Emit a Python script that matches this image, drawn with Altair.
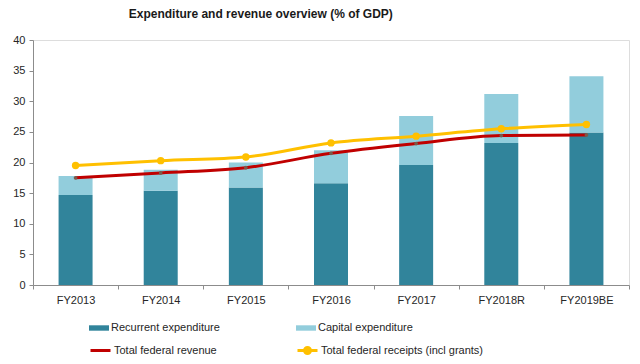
import altair as alt
import pandas as pd

years = ["FY2013", "FY2014", "FY2015", "FY2016", "FY2017", "FY2018R", "FY2019BE"]
recurrent = [14.7, 15.4, 15.9, 16.6, 19.6, 23.2, 24.9]
capital = [3.1, 3.4, 4.1, 5.4, 8.0, 8.0, 9.2]
revenue = [17.5, 18.3, 19.15, 21.5, 23.1, 24.4, 24.5]
receipts = [19.5, 20.3, 20.9, 23.2, 24.3, 25.5, 26.2]

df = pd.DataFrame({
    "year": years,
    "recurrent": recurrent,
    "capital": capital,
    "revenue": revenue,
    "receipts": receipts,
})
df["total"] = df["recurrent"] + df["capital"]

FONT = "Liberation Sans, Arial, sans-serif"

x_enc = alt.X(
    "year:N", sort=years, title=None,
    scale=alt.Scale(paddingInner=0, paddingOuter=0),
    axis=alt.Axis(labelAngle=0, tickBand="extent", tickSize=4, labelPadding=5,
                  domainColor="#8c8c8c", tickColor="#8c8c8c", labelFontSize=11,
                  labelFont=FONT, labelColor="#262626"),
)
y_scale = alt.Scale(domain=[0, 40], nice=False)
y_axis = alt.Axis(values=list(range(0, 41, 5)), grid=False, tickSize=4, labelPadding=4,
                  domainColor="#8c8c8c", tickColor="#8c8c8c", labelFontSize=11,
                  labelFont=FONT, labelColor="#262626", title=None)

rect_path = "M-1,-0.27H1V0.27H-1Z"
line_path = "M-1,0H1"
line_dot_path = "M-1,0H1M0.3,0A0.3,0.3,0,1,1,-0.3,0A0.3,0.3,0,1,1,0.3,0Z"

def leg(x, y, path, stroke_w=0, fill=None):
    kw = dict(orient="none", legendX=x, legendY=y, title=None, symbolType=path,
              symbolSize=400, labelFontSize=11, labelFont=FONT, labelColor="#262626",
              labelOffset=2, padding=0, symbolStrokeWidth=stroke_w, labelLimit=300)
    if fill is not None:
        kw["symbolFillColor"] = fill
    return alt.Legend(**kw)

base = alt.Chart(df)

rec_bar = base.transform_calculate(s="'Recurrent expenditure'").mark_bar(size=34).encode(
    x=x_enc,
    y=alt.Y("recurrent:Q", scale=y_scale, axis=y_axis),
    color=alt.Color("s:N", scale=alt.Scale(domain=["Recurrent expenditure"], range=["#31849B"]),
                    legend=leg(56, 278, rect_path)),
)

cap_bar = base.transform_calculate(s="'Capital expenditure'").mark_bar(size=34).encode(
    x=x_enc,
    y=alt.Y("recurrent:Q", scale=y_scale, axis=y_axis),
    y2="total:Q",
    color=alt.Color("s:N", scale=alt.Scale(domain=["Capital expenditure"], range=["#92CDDC"]),
                    legend=leg(263, 278, rect_path)),
)

rev_line = base.transform_calculate(s="'Total federal revenue'").mark_line(
    strokeWidth=3, interpolate="monotone").encode(
    x=x_enc,
    y=alt.Y("revenue:Q", scale=y_scale, axis=y_axis),
    color=alt.Color("s:N", scale=alt.Scale(domain=["Total federal revenue"], range=["#C00000"]),
                    legend=leg(56, 299, line_path, stroke_w=3)),
)
rev_pts = base.mark_point(filled=True, size=14, color="#7a5a4a", opacity=1).encode(
    x=x_enc, y=alt.Y("revenue:Q", scale=y_scale, axis=y_axis),
)

rec_line = base.transform_calculate(s="'Total federal receipts (incl grants)'").mark_line(
    strokeWidth=3, interpolate="monotone").encode(
    x=x_enc,
    y=alt.Y("receipts:Q", scale=y_scale, axis=y_axis),
    color=alt.Color("s:N", scale=alt.Scale(domain=["Total federal receipts (incl grants)"], range=["#FFC000"]),
                    legend=leg(263, 299, line_dot_path, stroke_w=3, fill="#FFC000")),
)
rec_pts = base.mark_point(filled=True, size=55, color="#FFC000", opacity=1).encode(
    x=x_enc, y=alt.Y("receipts:Q", scale=y_scale, axis=y_axis),
)

chart = alt.layer(rec_bar, cap_bar, rev_line, rev_pts, rec_line, rec_pts).resolve_scale(
    color="independent"
).properties(
    width=596, height=245,
    autosize=alt.AutoSizeParams(type="none"),
    padding={"left": 25, "top": 32, "right": 3, "bottom": 71},
    title=alt.TitleParams("Expenditure and revenue overview (% of GDP)", anchor="start", dx=116,
                          fontSize=12, fontWeight="bold", font=FONT, color="#1a1a1a", offset=13),
).configure_view(stroke=None).configure(background="white")

chart.save("out.html", embed_options={"renderer": "svg", "actions": False})
